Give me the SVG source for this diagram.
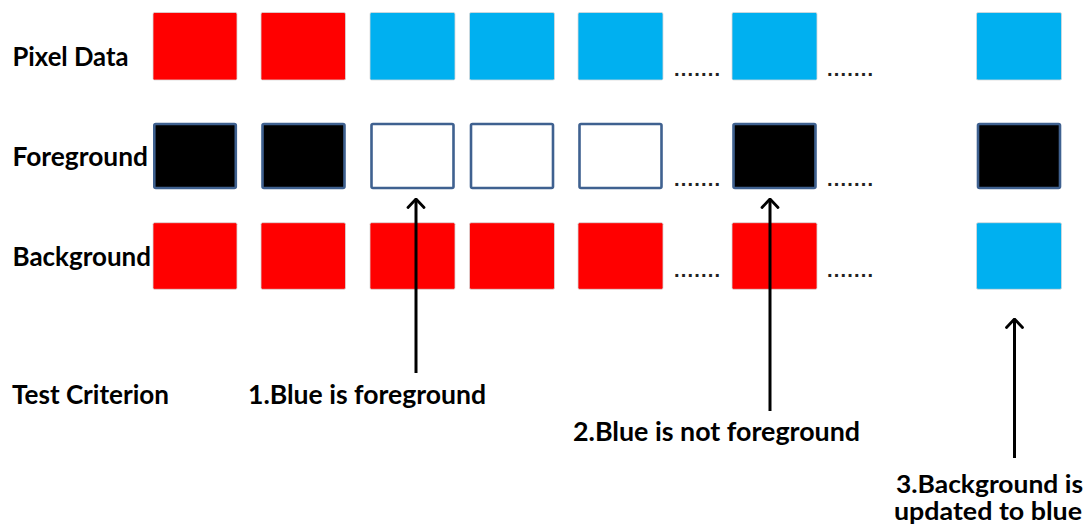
<svg xmlns="http://www.w3.org/2000/svg" width="1090" height="526" viewBox="0 0 1090 526">
  <style>
    .lbl { font-family: Lato, "Open Sans", "Liberation Sans", sans-serif; font-weight: bold; font-size: 26px; fill: #000; }
    .cap3 { font-size: 24px; }
    .dots { font-family: "Liberation Sans", sans-serif; font-weight: bold; font-size: 20px; fill: #222; }
    .red { fill: #FF0000; stroke: #d8d8d8; stroke-width: 0.8; }
    .blue { fill: #00B0F0; stroke: #d8d8d8; stroke-width: 0.8; }
    .fg { fill: #000; stroke: #3F6190; stroke-width: 2.6; }
    .bg0 { fill: #fff; stroke: #3F6190; stroke-width: 2.6; }
    .arrow { stroke: #000; stroke-width: 3; fill: none; }
  </style>
  <defs>
    <!-- open chevron head, drawn pointing along +x -->
    <marker id="head" viewBox="0 0 12 20" refX="10.5" refY="10" markerWidth="12" markerHeight="20" markerUnits="userSpaceOnUse" orient="auto">
      <path d="M2,2 L10.5,10 L2,18" fill="none" stroke="#000" stroke-width="2.8" stroke-linecap="round" stroke-linejoin="round"/>
    </marker>
  </defs>
  <rect width="1090" height="526" fill="#fff"/>

  <!-- row labels -->
  <g id="row-labels">
    <text class="lbl" x="12.5" y="65.5" textLength="116" lengthAdjust="spacingAndGlyphs">Pixel Data</text>
    <text class="lbl" x="12.5" y="165.7" textLength="135.5" lengthAdjust="spacingAndGlyphs">Foreground</text>
    <text class="lbl" x="12.5" y="265.7" textLength="138.5" lengthAdjust="spacingAndGlyphs">Background</text>
    <text class="lbl" x="12" y="404" textLength="157" lengthAdjust="spacingAndGlyphs">Test Criterion</text>
  </g>

  <!-- pixel data row -->
  <g id="pixel-data">
    <rect class="red" x="153" y="12.5" width="84" height="67.5" rx="1.5"/>
    <rect class="red" x="261" y="12.5" width="84.5" height="67.5" rx="1.5"/>
    <rect class="blue" x="370" y="12.5" width="85" height="67.5" rx="1.5"/>
    <rect class="blue" x="469.5" y="12.5" width="85" height="67.5" rx="1.5"/>
    <rect class="blue" x="578" y="12.5" width="85" height="67.5" rx="1.5"/>
    <text class="dots" x="674" y="76" textLength="46" lengthAdjust="spacing">.......</text>
    <rect class="blue" x="732" y="12.5" width="85" height="67.5" rx="1.5"/>
    <text class="dots" x="827" y="76" textLength="46" lengthAdjust="spacing">.......</text>
    <rect class="blue" x="976.5" y="12.5" width="85" height="67.5" rx="1.5"/>
  </g>

  <!-- foreground mask row -->
  <g id="foreground">
    <rect class="fg" x="154.3" y="124" width="81.5" height="64" rx="1.5"/>
    <rect class="fg" x="262.5" y="124" width="82" height="64" rx="1.5"/>
    <rect class="bg0" x="371.5" y="124" width="82" height="64" rx="1.5"/>
    <rect class="bg0" x="471" y="124" width="82" height="64" rx="1.5"/>
    <rect class="bg0" x="579.5" y="124" width="82" height="64" rx="1.5"/>
    <text class="dots" x="674" y="186" textLength="46" lengthAdjust="spacing">.......</text>
    <rect class="fg" x="733.5" y="124" width="82" height="64" rx="1.5"/>
    <text class="dots" x="827" y="186" textLength="46" lengthAdjust="spacing">.......</text>
    <rect class="fg" x="978" y="124" width="82" height="64" rx="1.5"/>
  </g>

  <!-- background model row -->
  <g id="background">
    <rect class="red" x="153" y="222.7" width="84" height="66.6" rx="1.5"/>
    <rect class="red" x="261" y="222.7" width="84.5" height="66.6" rx="1.5"/>
    <rect class="red" x="370" y="222.7" width="85" height="66.6" rx="1.5"/>
    <rect class="red" x="469.5" y="222.7" width="85" height="66.6" rx="1.5"/>
    <rect class="red" x="578" y="222.7" width="85" height="66.6" rx="1.5"/>
    <text class="dots" x="674" y="277" textLength="46" lengthAdjust="spacing">.......</text>
    <rect class="red" x="732" y="222.7" width="85" height="66.6" rx="1.5"/>
    <text class="dots" x="827" y="277" textLength="46" lengthAdjust="spacing">.......</text>
    <rect class="blue" x="976.5" y="222.7" width="85" height="66.6" rx="1.5"/>
  </g>

  <!-- arrows -->
  <g id="connectors">
    <line class="arrow" x1="416" y1="373" x2="416" y2="199" marker-end="url(#head)"/>
    <line class="arrow" x1="770" y1="411" x2="770" y2="199" marker-end="url(#head)"/>
    <line class="arrow" x1="1014.5" y1="458" x2="1014.5" y2="319" marker-end="url(#head)"/>
  </g>

  <!-- criterion captions -->
  <g id="criterion-1">
    <text class="lbl" x="248" y="404" textLength="238" lengthAdjust="spacingAndGlyphs">1.Blue is foreground</text>
  </g>
  <g id="criterion-2">
    <text class="lbl" x="573" y="441" textLength="287" lengthAdjust="spacingAndGlyphs">2.Blue is not foreground</text>
  </g>
  <g id="criterion-3">
    <text class="lbl cap3" x="896" y="493" textLength="187" lengthAdjust="spacingAndGlyphs">3.Background is</text>
    <text class="lbl cap3" x="894" y="520" textLength="188" lengthAdjust="spacingAndGlyphs">updated to blue</text>
  </g>
</svg>
